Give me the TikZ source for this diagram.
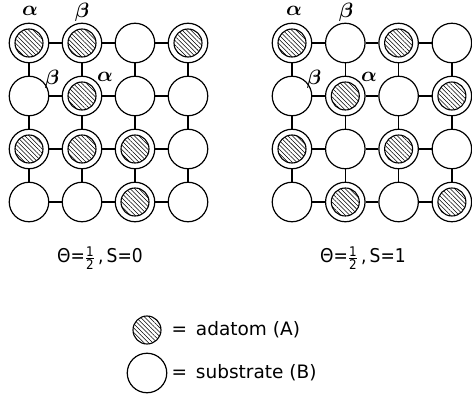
\documentclass[tikz,border=0pt]{standalone}
\usepackage{amsmath}
\usepackage{fontspec}
\setmainfont{DejaVu Sans}
\newfontfamily\capfont{DejaVu Sans Condensed}
\usetikzlibrary{patterns.meta}
\tikzset{
  sub/.style={circle, draw=black, line width=1.2pt, fill=white, minimum size=39.5pt, inner sep=0pt},
  ad/.style={circle, draw=black, line width=1.1pt, minimum size=28pt, inner sep=0pt,
    pattern={Lines[angle=-45, distance=3.1pt, line width=0.55pt]}},
  bond/.style={draw=black, line width=1.2pt},
  greek/.style={font=\fontsize{21}{24}\selectfont\boldmath},
  caption/.style={font=\capfont\fontsize{19}{22}\selectfont},
  keytext/.style={anchor=west, font=\fontsize{18.5}{22}\selectfont},
}

\begin{document}
\begin{tikzpicture}[x=1pt,y=-1pt]
  \useasboundingbox (0,0) rectangle (472,396);

  % lattice sites, left (S=0) and right (S=1)
  \foreach \r in {1,...,4}
    \foreach \c in {1,...,4}{
      \node[sub] (L\r\c) at ({29+53*(\c-1)},{43+53*(\r-1)}) {};
      \node[sub] (R\r\c) at ({292+53.3*(\c-1)},{43+53*(\r-1)}) {};
    }

  % bonds between neighbours
  \foreach \r in {1,...,4}
    \foreach \c/\n in {1/2,2/3,3/4}{
      \draw[bond] (L\r\c) -- (L\r\n);
      \draw[bond] (L\c\r) -- (L\n\r);
      \draw[bond] (R\r\c) -- (R\r\n);
      \draw[bond] (R\c\r) -- (R\n\r);
    }

  % adatoms
  \foreach \p in {11,12,14,22,31,32,33,43}
    \node[ad] (L\p a) at (L\p) {};
  \foreach \p in {11,13,22,24,31,33,42,44}
    \node[ad] (R\p a) at (R\p) {};

  % sublattice labels
  \node[greek] (La1) at (30,11) {$\alpha$};
  \node[greek] (Lb1) at (82,12) {$\beta$};
  \node[greek] (Lb2) at (52,79) {$\beta$};
  \node[greek] (La2) at (105,77) {$\alpha$};
  \node[greek] (Ra1) at (294,11) {$\alpha$};
  \node[greek] (Rb1) at (346,12) {$\beta$};
  \node[greek] (Rb2) at (314,79) {$\beta$};
  \node[greek] (Ra2) at (369,77) {$\alpha$};

  \node[caption] (capL) at (100,258) {Θ=$\frac{\text{1}}{\text{2}}$\,,\,S=0};
  \node[caption] (capR) at (363,258) {Θ=$\frac{\text{1}}{\text{2}}$\,,\,S=1};

  % key
  \node[ad] (keyA) at (147,330) {};
  \node[keytext] (keyAt) at (168,330) {=\, adatom (A)};
  \node[sub] (keyB) at (147,373) {};
  \node[keytext] (keyBt) at (168,373) {=\, substrate (B)};
\end{tikzpicture}
\end{document}
